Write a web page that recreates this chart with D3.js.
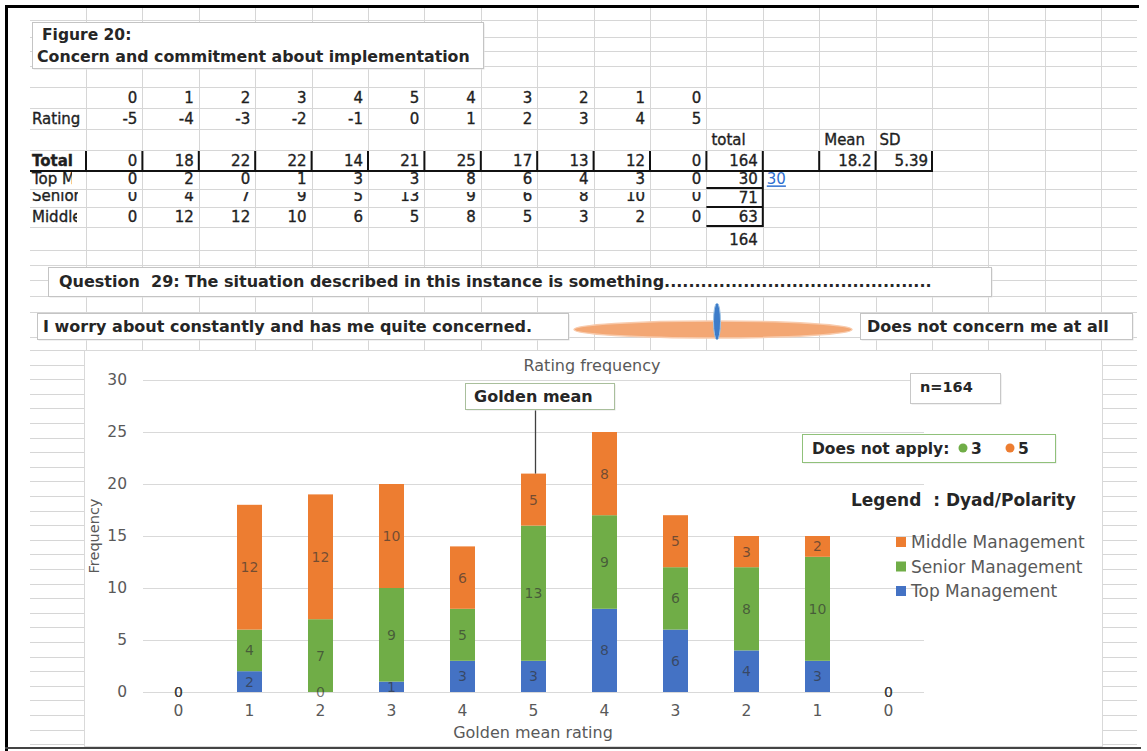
<!DOCTYPE html>
<html><head><meta charset="utf-8">
<script src="https://cdn.jsdelivr.net/npm/d3@7"></script>
<style>
html,body{margin:0;padding:0;background:#fff;}
svg{display:block;}
text{font-family:"DejaVu Sans",Verdana,sans-serif;white-space:pre;}
</style></head><body>
<svg id="sheet" width="1147" height="751"></svg>
<script>
// ---------- worksheet values ----------
const ratingTopRow = ["0","1","2","3","4","5","4","3","2","1","0"];
const ratingScale = [-5,-4,-3,-2,-1,0,1,2,3,4,5];
const tableTotal = [0,18,22,22,14,21,25,17,13,12,0];
const tableTop = [0,2,0,1,3,3,8,6,4,3,0];
const tableSenior = [0,4,7,9,5,13,9,6,8,10,0];
const tableMiddle = [0,12,12,10,6,5,8,5,3,2,0];
const rowLabels = ["Rating","Total","Top M","Senior","Middle"];
const totalColumn = [164,30,71,63,164];
const meanValue = "18.2";
const sdValue = "5.39";

// ---------- chart values ----------
const ratingLabels = ["0","1","2","3","4","5","4","3","2","1","0"];
const chartTop = [0,2,0,1,3,3,8,6,4,3,0];
const chartSenior = [0,4,7,9,5,13,9,6,8,10,0];
const chartMiddle = [0,12,12,10,6,5,8,5,3,2,0];
const seriesKeys = ["top","senior","middle"];
const seriesNames = {top:"Top Management", senior:"Senior Management", middle:"Middle Management"};
const seriesColors = {top:"#4472C4", senior:"#70AD47", middle:"#ED7D31"};
const yTicks = [0,5,10,15,20,25,30];
const goldenMeanIndex = 5;
const sampleSize = 164;
const doesNotApply = [{key:"senior", n:3},{key:"middle", n:5}];

const svg = d3.select("#sheet");
svg.append("rect").attr("width",1147).attr("height",751).attr("fill","#fff");

// ---------- spreadsheet grid ----------
const colX = d3.range(19).map(k => 86 + 56.4*k);
const rowLines = [20,37,51,66,87,108,129,150,171,189,207,227,250,265,280,296,312,337,350]
  .concat(d3.range(364.6, 748, 14.6));
const grid = svg.append("g").attr("stroke","#d6d6d6").attr("stroke-width",1);
grid.selectAll(".v").data(colX).join("line").attr("class","v")
  .attr("x1",d=>Math.round(d)+0.5).attr("x2",d=>Math.round(d)+0.5).attr("y1",8).attr("y2",748);
grid.selectAll(".h").data(rowLines).join("line").attr("class","h")
  .attr("x1",30).attr("x2",1137).attr("y1",d=>Math.round(d)+0.5).attr("y2",d=>Math.round(d)+0.5);

// ---------- text boxes ----------
function box(x,y,w,h,stroke){
  svg.append("rect").attr("x",x+1.5).attr("y",y+1.5).attr("width",w).attr("height",h).attr("fill","#e4e4e4");
  svg.append("rect").attr("x",x+0.5).attr("y",y+0.5).attr("width",w).attr("height",h)
    .attr("fill","#fff").attr("stroke",stroke||"#c4c4c4");
}
function label(x,y,str,size,weight,anchor,fill){
  return svg.append("text").attr("x",x).attr("y",y).attr("xml:space","preserve").text(str)
    .attr("font-size",size).attr("font-weight",weight||"normal")
    .attr("text-anchor",anchor||"start").attr("fill",fill||"#262626");
}

box(32,22,451,46);
label(42,40,"Figure 20:",15.5,"bold");
label(37,62,"Concern and commitment about implementation",15.8,"bold");

box(48,267,943,29);
label(59,287,"Question  29: The situation described in this instance is something"+".".repeat(44),16,"bold");

box(37,313,531,26);
label(43,332,"I worry about constantly and has me quite concerned.",16,"bold");

box(860,313,272,26);
label(867,332,"Does not concern me at all",16,"bold");

svg.append("ellipse").attr("cx",713).attr("cy",329.5).attr("rx",139).attr("ry",8.5)
  .attr("fill","#f3a774").attr("stroke","#f8cbad").attr("stroke-width",1.5);
svg.append("ellipse").attr("cx",717).attr("cy",321.5).attr("rx",3.5).attr("ry",18.5)
  .attr("fill","#3d7cc9").attr("stroke","#9dc3e6").attr("stroke-width",1);

// ---------- table ----------
const tbl = svg.append("g").attr("font-size",15).attr("fill","#1f1f1f")
  .attr("stroke","#1f1f1f").attr("stroke-width",0.35);
const defs = svg.append("defs");
function clipRect(id,x,y,w,h){
  defs.append("clipPath").attr("id",id).append("rect").attr("x",x).attr("y",y).attr("width",w).attr("height",h);
  return "url(#"+id+")";
}
const rowY = {r1:98, r2:119, r3:140, r4:161, r5:179, r6:196, r7:217, r8:240};
function numRow(vals, cy, clip){
  const g = tbl.append("g");
  if (clip) g.attr("clip-path", clip);
  g.selectAll("text").data(vals).join("text")
    .attr("x",(d,i)=>colX[i+1]-5).attr("y",cy).attr("dy","0.36em")
    .attr("text-anchor","end").text(d=>d);
}
numRow(ratingTopRow, rowY.r1);
numRow(ratingScale, rowY.r2);
numRow(tableTotal, rowY.r4);
numRow(tableTop, rowY.r5, clipRect("cr5",86,171,900,15.5));
numRow(tableSenior, rowY.r6, clipRect("cr6",86,192,620,9.5));
numRow(tableMiddle, rowY.r7);

// row labels, clipped to the first column
const labRows = [rowY.r2, rowY.r4, rowY.r5, rowY.r6, rowY.r7];
const labClipTop = [108,150,171,192,207];
const labClipH = [21,21,15.5,9.5,20];
const labClipW = [50,54,42,48,47];
rowLabels.forEach((t,i)=>{
  tbl.append("text").attr("x",32).attr("y",labRows[i]).attr("dy","0.36em")
    .attr("font-weight", i===1 ? "bold" : "normal")
    .attr("clip-path", clipRect("cl"+i,30,labClipTop[i],labClipW[i],labClipH[i])).text(t);
});

// totals column and statistics
tbl.append("text").attr("x",colX[11]+5).attr("y",rowY.r3).attr("dy","0.36em").text("total");
tbl.append("text").attr("x",colX[13]+5).attr("y",rowY.r3).attr("dy","0.36em").text("Mean");
tbl.append("text").attr("x",colX[14]+4).attr("y",rowY.r3).attr("dy","0.36em").text("SD");
[rowY.r4,rowY.r5,198,rowY.r7,rowY.r8].forEach((cy,i)=>{
  tbl.append("text").attr("x",colX[12]-5).attr("y",cy).attr("dy","0.36em")
    .attr("text-anchor","end").text(totalColumn[i]);
});
tbl.append("text").attr("x",colX[14]-4).attr("y",rowY.r4).attr("dy","0.36em").attr("text-anchor","end").text(meanValue);
tbl.append("text").attr("x",colX[15]-4).attr("y",rowY.r4).attr("dy","0.36em").attr("text-anchor","end").text(sdValue);
tbl.append("text").attr("x",colX[12]+4).attr("y",rowY.r5).attr("dy","0.36em").attr("stroke","none")
  .attr("fill","#2f6fd0").attr("text-decoration","underline").text(totalColumn[1]);

// cell borders
const bd = svg.append("g").attr("stroke","#111").attr("stroke-width",2);
bd.selectAll(".vb").data(colX.slice(0,16)).join("line").attr("class","vb")
  .attr("x1",d=>d).attr("x2",d=>d).attr("y1",151).attr("y2",171);
bd.append("line").attr("x1",30).attr("x2",colX[15]+1).attr("y1",171).attr("y2",171);
[188,207,226].forEach(yy=>bd.append("line").attr("x1",colX[11]).attr("x2",colX[12]).attr("y1",yy).attr("y2",yy));
bd.append("line").attr("x1",colX[12]).attr("x2",colX[12]).attr("y1",171).attr("y2",227);

// ---------- chart ----------
svg.append("rect").attr("x",84.5).attr("y",350.5).attr("width",1018).attr("height",396)
  .attr("fill","#fff").attr("stroke","#d9d9d9");
const chart = svg.append("g");
const x = d3.scaleBand().domain(d3.range(ratingLabels.length)).range([143,924]);
const y = d3.scaleLinear().domain([0,30]).range([692,380]);
const barW = 25;

const gy = chart.append("g").attr("transform","translate(143,0)")
  .call(d3.axisLeft(y).tickValues(yTicks).tickSize(-(924-143)).tickPadding(16));
gy.select(".domain").remove();
gy.selectAll(".tick line").attr("stroke","#d9d9d9");
gy.selectAll(".tick text").attr("fill","#595959").attr("font-size",15.5).attr("font-family","DejaVu Sans");

const gx = chart.append("g").attr("transform","translate(0,692)")
  .call(d3.axisBottom(x).tickFormat(i=>ratingLabels[i]).tickSize(0).tickPadding(13));
gx.select(".domain").remove();
gx.selectAll(".tick text").attr("fill","#595959").attr("font-size",15.5).attr("font-family","DejaVu Sans");

const rows = ratingLabels.map((r,i)=>({i, top:chartTop[i], senior:chartSenior[i], middle:chartMiddle[i]}));
const stacked = d3.stack().keys(seriesKeys)(rows);

const layers = chart.selectAll(".layer").data(stacked).join("g").attr("fill",d=>seriesColors[d.key]);
layers.selectAll("rect").data(d=>d).join("rect")
  .attr("x",d=>x(d.data.i)+(x.bandwidth()-barW)/2).attr("width",barW)
  .attr("y",d=>y(d[1])).attr("height",d=>y(d[0])-y(d[1]));

const lbl = chart.append("g").attr("font-size",14).attr("text-anchor","middle");
stacked.forEach(s=>{
  lbl.selectAll(null).data(s).join("text")
    .attr("x",d=>x(d.data.i)+x.bandwidth()/2)
    .attr("y",d=>(y(d[0])+y(d[1]))/2).attr("dy","0.36em")
    .attr("fill","#333").attr("fill-opacity",0.66)
    .text(d=>d.data[s.key]);
});

// titles
label(592,371,"Rating frequency",16,"normal","middle","#595959");
label(533,738,"Golden mean rating",16,"normal","middle","#595959");
svg.append("text").attr("transform","translate(99,536) rotate(-90)")
  .attr("text-anchor","middle").attr("font-size",14.5).attr("fill","#595959").text("Frequency");

// golden mean callout
const gm = stacked[stacked.length-1][goldenMeanIndex];
const gmX = x(goldenMeanIndex)+x.bandwidth()/2+2;
chart.append("line").attr("x1",gmX).attr("x2",gmX).attr("y1",409).attr("y2",y(gm[1]))
  .attr("stroke","#404040").attr("stroke-width",1.3);
box(465,383,149,26,"#a9bf9c");
label(474,402,"Golden mean",16,"bold");

// sample size
box(910,373,90,30,"#c8c8c8");
label(920,392,"n="+sampleSize,14.5,"bold");

// not-applicable counts
box(802,434,253,28,"#90c17a");
label(812,454,"Does not apply:",15.5,"bold");
let nx = 963;
doesNotApply.forEach(d=>{
  svg.append("circle").attr("cx",nx).attr("cy",448).attr("r",4.5).attr("fill",seriesColors[d.key]);
  label(nx+8,454,d.n,15.5,"bold");
  nx += 47;
});

// legend
label(851,506,"Legend  : Dyad/Polarity",17,"bold");
const legendOrder = ["middle","senior","top"];
const lg = svg.append("g").attr("transform","translate(896,542)");
legendOrder.forEach((k,i)=>{
  lg.append("rect").attr("x",0).attr("y",i*24.5-5).attr("width",10).attr("height",10).attr("fill",seriesColors[k]);
  lg.append("text").attr("x",15).attr("y",i*24.5).attr("dy","0.36em")
    .attr("font-size",17).attr("fill","#595959").text(seriesNames[k]);
});

// page frame
svg.append("line").attr("x1",5).attr("x2",1139).attr("y1",6.5).attr("y2",6.5).attr("stroke","#000").attr("stroke-width",3);
svg.append("line").attr("x1",6.5).attr("x2",6.5).attr("y1",5).attr("y2",751).attr("stroke","#000").attr("stroke-width",3);
svg.append("line").attr("x1",5).attr("x2",1141).attr("y1",748).attr("y2",748).attr("stroke","#444").attr("stroke-width",2);
</script>
</body></html>
